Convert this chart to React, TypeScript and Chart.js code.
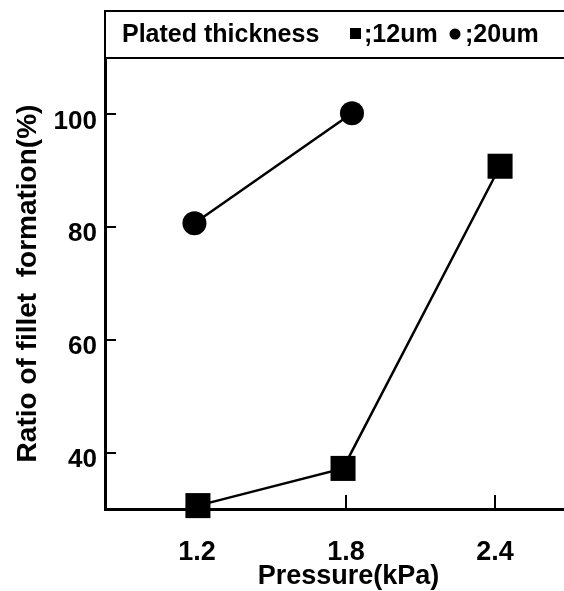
import React, { useEffect, useRef } from "react";
import { Chart, registerables } from "chart.js";

Chart.register(...registerables);

const xTicks = [1.2, 1.8, 2.4];
const yTicks = [40, 60, 80, 100];
const series12X = [1.204, 1.788, 2.42];
const series12Y = [30.6, 37.2, 90.8];
const series20X = [1.19, 1.824];
const series20Y = [80.7, 100.2];
const legendTitle = "Plated thickness";
const legendLabels = [";12um", ";20um"];
const xTitle = "Pressure(kPa)";
const yTitle = "Ratio of fillet  formation(%)";

const FONT = "'Liberation Sans', Arial, sans-serif";

const framePlugin = {
  id: "frame",
  afterDraw(chart: any) {
    const ctx = chart.ctx;
    const { left, top, right, bottom } = chart.chartArea;
    const xs = chart.scales.x;
    const ys = chart.scales.y;
    ctx.save();
    ctx.strokeStyle = "#000";
    ctx.fillStyle = "#000";
    // inward tick marks
    ctx.lineWidth = 2;
    for (const v of yTicks) {
      const py = Math.round(ys.getPixelForValue(v));
      ctx.beginPath();
      ctx.moveTo(left, py);
      ctx.lineTo(left + 11, py);
      ctx.stroke();
    }
    for (const v of xTicks) {
      const px = Math.round(xs.getPixelForValue(v));
      ctx.beginPath();
      ctx.moveTo(px, bottom);
      ctx.lineTo(px, bottom - 14);
      ctx.stroke();
    }
    // legend box above the plot
    const boxTop = 11;
    ctx.lineWidth = 2;
    ctx.beginPath();
    ctx.moveTo(left, bottom);
    ctx.lineTo(left, boxTop);
    ctx.lineTo(right + 10, boxTop);
    ctx.moveTo(left, top);
    ctx.lineTo(right + 10, top);
    ctx.stroke();
    ctx.font = `bold 25px ${FONT}`;
    ctx.textBaseline = "alphabetic";
    ctx.textAlign = "left";
    ctx.fillText(legendTitle, left + 17, 42);
    ctx.fillRect(350, 28, 11, 11);
    ctx.fillText(legendLabels[0], 364, 42);
    ctx.beginPath();
    ctx.arc(455, 34, 5.5, 0, Math.PI * 2);
    ctx.fill();
    ctx.fillText(legendLabels[1], 465, 42);
    ctx.restore();
  },
};

export default function App() {
  const ref = useRef<HTMLCanvasElement>(null);
  useEffect(() => {
    const canvas = ref.current;
    if (!canvas) return;
    const chart = new Chart(canvas, {
      type: "scatter",
      data: {
        datasets: [
          {
            label: legendLabels[0],
            data: series12X.map((x, i) => ({ x, y: series12Y[i] })),
            showLine: true,
            borderColor: "#000",
            backgroundColor: "#000",
            borderWidth: 2.5,
            pointStyle: "rect",
            pointRadius: 17.7,
            pointBorderWidth: 0,
            clip: false as any,
          },
          {
            label: legendLabels[1],
            data: series20X.map((x, i) => ({ x, y: series20Y[i] })),
            showLine: true,
            borderColor: "#000",
            backgroundColor: "#000",
            borderWidth: 2.5,
            pointStyle: "circle",
            pointRadius: 12,
            pointBorderWidth: 0,
            clip: false as any,
          },
        ],
      },
      options: {
        animation: false,
        responsive: false,
        devicePixelRatio: 1,
        layout: { autoPadding: false, padding: { top: 58, left: 0, right: 0, bottom: 0 } },
        plugins: { legend: { display: false }, tooltip: { enabled: false } },
        scales: {
          x: {
            type: "linear",
            min: 0.83,
            max: 2.79,
            afterBuildTicks: (s: any) => {
              s.ticks = xTicks.map((v) => ({ value: v }));
            },
            afterFit: (s: any) => {
              s.height = 82;
            },
            grid: { display: false, drawTicks: false },
            border: { display: true, color: "#000", width: 3 },
            ticks: {
              color: "#000",
              font: { family: FONT, size: 27, weight: "bold" },
              padding: 27,
              maxRotation: 0,
              callback: (v: any) => Number(v).toFixed(1),
            },
            title: {
              display: true,
              text: xTitle,
              color: "#000",
              font: { family: FONT, size: 27, weight: "bold" },
              padding: { top: 0, bottom: -2 },
            },
          },
          y: {
            type: "linear",
            min: 30,
            max: 110,
            afterBuildTicks: (s: any) => {
              s.ticks = yTicks.map((v) => ({ value: v }));
            },
            afterFit: (s: any) => {
              s.width = 105;
            },
            grid: { display: false, drawTicks: false },
            border: { display: true, color: "#000", width: 3 },
            ticks: {
              color: "#000",
              font: { family: FONT, size: 26, weight: "bold" },
              padding: 8,
              labelOffset: 7,
              callback: (v: any) => String(v),
            },
            title: {
              display: true,
              text: yTitle,
              color: "#000",
              font: { family: FONT, size: 28, weight: "bold" },
              padding: { top: 11, bottom: 0 },
            },
          },
        },
      },
      plugins: [framePlugin],
    } as any);
    return () => chart.destroy();
  }, []);
  return (
    <div
      style={{
        position: "fixed",
        left: 0,
        top: 0,
        width: 564,
        height: 591,
        overflow: "hidden",
        background: "#fff",
      }}
    >
      <canvas ref={ref} width={592} height={591} style={{ width: 592, height: 591, display: "block" }} />
    </div>
  );
}
